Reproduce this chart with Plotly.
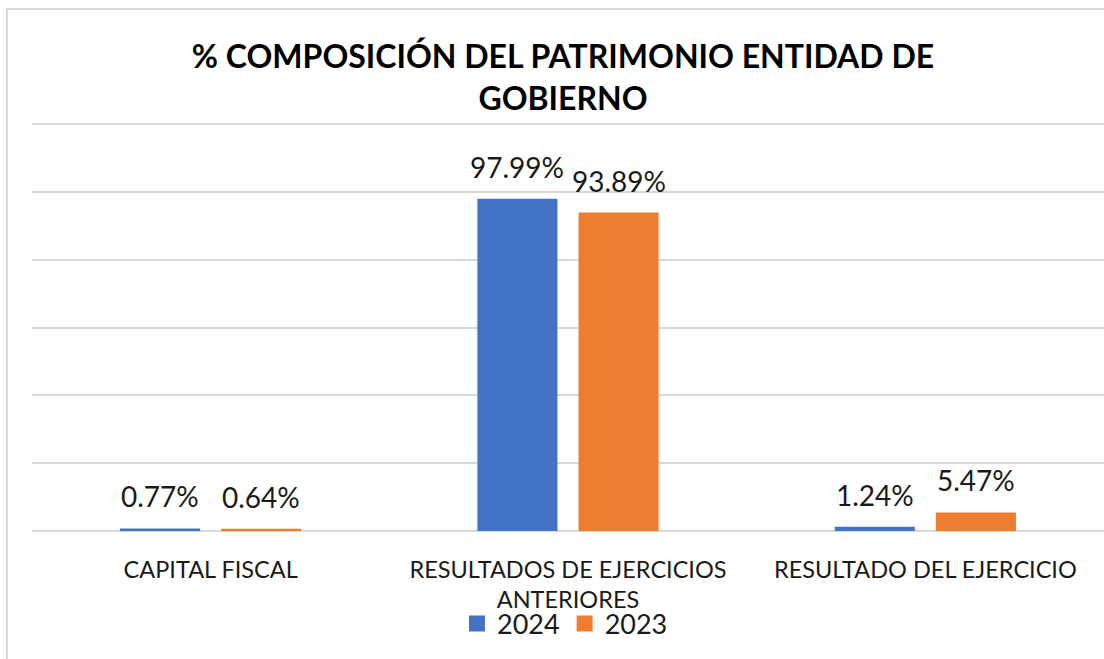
import plotly.graph_objects as go

categories = ["CAPITAL FISCAL", "RESULTADOS DE EJERCICIOS<br>ANTERIORES", "RESULTADO DEL EJERCICIO"]
series_names = ["2024", "2023"]
values_2024 = [0.77, 97.99, 1.24]
values_2023 = [0.64, 93.89, 5.47]
colors = ["#4472C4", "#ED7D31"]
title_text = "% COMPOSICIÓN DEL PATRIMONIO ENTIDAD DE<br>GOBIERNO"
y_max = 120
y_step = 20

W, H = 1104, 659
TOP_PAD = 4
ML, MR, MT, MB = 32, 0, 124 - TOP_PAD, 128
plot_w = W - ML - MR
plot_h = H - MT - MB
FONT = "Lato"
TXT = "#1a1a1a"

fig = go.Figure()
for name, vals, col in zip(series_names, [values_2024, values_2023], colors):
    fig.add_trace(go.Bar(name=name, x=categories, y=vals, showlegend=False,
                         marker=dict(color=col, line=dict(width=0))))
# legend entries with larger square swatches
for name, col in zip(series_names, colors):
    fig.add_trace(go.Scatter(name=name, x=[None], y=[None], mode="markers",
                             marker=dict(symbol="square", size=16, color=col)))

# data labels
cat_w = plot_w / len(categories)
slot = cat_w * (1 - 0.434) / 2
annotations = []
for k, vals in enumerate([values_2024, values_2023]):
    shift = (k - 0.5) * slot
    for c, v in zip(categories, vals):
        annotations.append(dict(x=c, y=v, xref="x", yref="y", text=f"{v:.2f}%", showarrow=False,
                                xshift=shift, yshift=13, yanchor="bottom",
                                font=dict(family=FONT, size=28, color=TXT)))

def px2paper_x(px):
    return (px - ML) / plot_w

def px2paper_y(py):
    return (H - MB - py) / plot_h

fig.update_layout(
    width=W, height=H,
    margin=dict(l=ML, r=MR, t=MT, b=MB, autoexpand=False),
    paper_bgcolor="white", plot_bgcolor="white",
    barmode="group", bargap=0.434, bargroupgap=0.208,
    title=dict(text=title_text, x=563 / W, xanchor="center", y=1 - 68 / H, yanchor="top",
               font=dict(family=FONT, size=32, color="#000000", weight="bold")),
    font=dict(family=FONT, color=TXT),
    showlegend=True,
    legend=dict(orientation="h", xref="container", yref="container", x=565 / W, xanchor="center",
                y=1 - 624 / H, yanchor="middle", font=dict(family=FONT, size=27, color=TXT),
                bgcolor="rgba(0,0,0,0)", itemwidth=30),
    annotations=annotations,
    shapes=[dict(type="rect", xref="paper", yref="paper", x0=px2paper_x(7), x1=px2paper_x(W + 20),
                 y0=px2paper_y(H + 20), y1=px2paper_y(9), line=dict(color="#D9D9D9", width=2),
                 fillcolor="rgba(0,0,0,0)", layer="below")],
)
px_per_unit = (plot_h - TOP_PAD) / y_max
fig.update_yaxes(range=[0, plot_h / px_per_unit], dtick=y_step, showticklabels=False,
                 showgrid=True, gridcolor="#D9D9D9", gridwidth=1.5, automargin=False,
                 zeroline=True, zerolinecolor="#D9D9D9", zerolinewidth=1.5, showline=False)
fig.update_xaxes(showline=False, ticks="", ticklabelstandoff=22, automargin=False,
                 tickfont=dict(family=FONT, size=23.5, color=TXT))

fig.write_html("out.html", config={"displayModeBar": False},
               post_script="document.body.style.margin='0';document.body.style.overflow='hidden';")
